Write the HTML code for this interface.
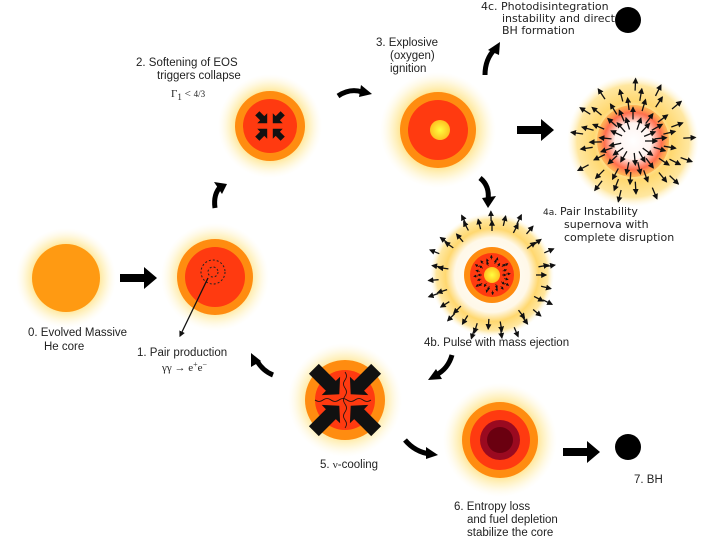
<!DOCTYPE html>
<html><head><meta charset="utf-8"><style>
html,body{margin:0;padding:0;background:#fff}
svg{display:block}
text{font-family:"Liberation Sans",sans-serif;font-size:11.5px;fill:#222}
.s{font-family:"DejaVu Sans",sans-serif;font-size:11px}
.m{font-family:"Liberation Serif",serif;font-size:11px}
</style></head><body>
<svg id="g" width="720" height="544" viewBox="0 0 720 544" xmlns="http://www.w3.org/2000/svg">
<defs>
<radialGradient id="glow"><stop offset="0.55" stop-color="#ffd860" stop-opacity="1"/><stop offset="0.8" stop-color="#ffeeb0" stop-opacity="0.6"/><stop offset="1" stop-color="#fff8e0" stop-opacity="0"/></radialGradient>
<radialGradient id="ex"><stop offset="0" stop-color="#fff"/><stop offset="0.35" stop-color="#fff0e0"/><stop offset="0.6" stop-color="#ffd870"/><stop offset="0.85" stop-color="#ffe7a0"/><stop offset="1" stop-color="#fff8e0" stop-opacity="0"/></radialGradient>
<radialGradient id="ex2"><stop offset="0" stop-color="#fff"/><stop offset="0.6" stop-color="#fff8e8"/><stop offset="0.75" stop-color="#ffd870"/><stop offset="0.9" stop-color="#ffe7a0"/><stop offset="1" stop-color="#fff8e0" stop-opacity="0"/></radialGradient>
<radialGradient id="yc"><stop offset="0" stop-color="#ffff40"/><stop offset="1" stop-color="#ffc020"/></radialGradient>
<radialGradient id="core4a"><stop offset="0" stop-color="#fff"/><stop offset="0.5" stop-color="#fff4f0"/><stop offset="0.8" stop-color="#ff5030" stop-opacity="0.8"/><stop offset="1" stop-color="#ff9020" stop-opacity="0.5"/></radialGradient>
<marker id="ah" viewBox="0 0 10 10" refX="8" refY="5" markerWidth="6" markerHeight="6" markerUnits="userSpaceOnUse" orient="auto"><path d="M0,0L10,5L0,10z" fill="#111"/></marker>
<marker id="ahs" viewBox="0 0 10 10" refX="8" refY="5" markerWidth="3" markerHeight="3" markerUnits="userSpaceOnUse" orient="auto"><path d="M0,0L10,5L0,10z" fill="#111"/></marker>
</defs>

<circle cx="66" cy="278" r="50" fill="url(#glow)"/>
<circle cx="66" cy="278" r="34" fill="#ff9a12"/>
<circle cx="215" cy="277" r="54" fill="url(#glow)"/>
<circle cx="215" cy="277" r="38" fill="#ff8c10"/>
<circle cx="215" cy="277" r="30" fill="#ff3a10"/>
<circle cx="213" cy="272" r="12" fill="none" stroke="#222" stroke-dasharray="2,2"/>
<circle cx="213" cy="272" r="5" fill="none" stroke="#222" stroke-dasharray="2,2"/>
<line x1="208" y1="278" x2="180" y2="336" stroke="#111" stroke-width="1.3" marker-end="url(#ah)"/>
<circle cx="270" cy="126" r="52" fill="url(#glow)"/>
<circle cx="270" cy="126" r="35" fill="#ff8c10"/>
<circle cx="270" cy="126" r="27" fill="#ff3a10"/>
<g id="in2" fill="#111"></g>
<circle cx="438" cy="130" r="58" fill="url(#glow)"/>
<circle cx="438" cy="130" r="38" fill="#ff8c10"/>
<circle cx="438" cy="130" r="30" fill="#ff3a10"/>
<circle cx="440" cy="130" r="10" fill="url(#yc)"/>
<circle cx="633" cy="141" r="66" fill="url(#ex)"/>
<circle cx="633" cy="141" r="36" fill="url(#core4a)"/>
<g id="a4a" stroke="#111" stroke-width="1.3"></g>
<circle cx="492" cy="275" r="62" fill="url(#ex2)"/>
<circle cx="492" cy="275" r="28" fill="#ff8c10"/>
<circle cx="492" cy="275" r="22" fill="#ff3a10"/>
<circle cx="492" cy="275" r="8" fill="url(#yc)"/>
<g id="a4b" stroke="#111" stroke-width="1.3"></g>
<g id="a4bi" stroke="#111" stroke-width="0.7"></g>
<circle cx="628" cy="20" r="13" fill="#000"/>
<circle cx="345" cy="400" r="57" fill="url(#glow)"/>
<circle cx="345" cy="400" r="40" fill="#ff8c10"/>
<circle cx="345" cy="400" r="30" fill="#ff3a10"/>
<g stroke="#111" fill="none" stroke-width="0.8"><path d="M345,372 q3,4 0,8 q-3,4 0,8 q3,4 0,8 q-3,4 0,8 q3,4 0,8 q-3,4 0,8 q3,4 0,8"/><path d="M315,400 q4,3 8,0 q4,-3 8,0 q4,3 8,0 q4,-3 8,0 q4,3 8,0 q4,-3 8,0 q4,3 8,0"/></g>
<g id="in5" fill="#111"></g>
<circle cx="500" cy="440" r="57" fill="url(#glow)"/>
<circle cx="500" cy="440" r="38" fill="#ff8c10"/>
<circle cx="500" cy="440" r="30" fill="#ff3a10"/>
<circle cx="500" cy="440" r="20" fill="#9a0a20"/>
<circle cx="500" cy="440" r="13" fill="#6a0010"/>
<circle cx="628" cy="447" r="13" fill="#000"/>

<g fill="#000">
<path d="M120,274h24v-7l13,11l-13,11v-7h-24z"/>
<path d="M517,126h24v-7l13,11l-13,11v-7h-24z"/>
<path d="M563,448h24v-7l13,11l-13,11v-7h-24z"/>
</g>
<g fill="none" stroke="#000" stroke-width="5">
<path d="M215,208 q-2,-14 6,-22"/>
<path d="M338,96 q12,-8 24,-4"/>
<path d="M485,75 q0,-16 10,-26"/>
<path d="M480,178 q10,8 8,22"/>
<path d="M452,355 q-4,14 -16,20"/>
<path d="M273,375 q-10,-4 -16,-14"/>
<path d="M405,440 q10,12 25,14"/>
</g>
<g fill="#000">
<path d="M214,182l13,2l-5,10z"/>
<path d="M372,94l-11,-9l-2,12z"/>
<path d="M500,42l-12,8l11,5z"/>
<path d="M488,208l8,-12l-14,2z"/>
<path d="M428,380l14,-1l-6,-10z"/>
<path d="M251,353l0,14l10,-6z"/>
<path d="M438,455l-12,-8l0,12z"/>
</g>

<text x="136" y="66">2. Softening of EOS</text>
<text x="157" y="79">triggers collapse</text>
<text x="171" y="97" class="m" font-size="13">Γ<tspan font-size="9" dy="3">1</tspan><tspan dy="-3"> &lt; </tspan><tspan font-size="9">4/3</tspan></text>
<text x="376" y="46">3. Explosive</text>
<text x="390" y="59">(oxygen)</text>
<text x="390" y="72">ignition</text>
<text x="481" y="10" class="s">4c. Photodisintegration</text>
<text x="502" y="22" class="s">instability and direct</text>
<text x="502" y="34" class="s">BH formation</text>
<text x="543" y="215" class="s"><tspan font-size="9">4a. </tspan>Pair Instability</text>
<text x="564" y="228" class="s">supernova with</text>
<text x="564" y="241" class="s">complete disruption</text>
<text x="424" y="346">4b. Pulse with mass ejection</text>
<text x="28" y="336">0. Evolved Massive</text>
<text x="44" y="350">He core</text>
<text x="137" y="356">1. Pair production</text>
<text x="162" y="371" class="m" font-size="12">γγ → e<tspan font-size="8" dy="-4">+</tspan><tspan dy="4">e</tspan><tspan font-size="8" dy="-4">−</tspan></text>
<text x="320" y="468">5. <tspan class="m">ν</tspan>-cooling</text>
<text x="454" y="510">6. Entropy loss</text>
<text x="467" y="523">and fuel depletion</text>
<text x="467" y="536">stabilize the core</text>
<text x="634" y="483">7. BH</text>
</svg>
<script>
function ar(id,cx,cy,r1,r2,n,len,mk){var g=document.getElementById(id),s="";
for(var i=0;i<n;i++){var a=i*2*Math.PI/n+(i%3)*0.07,rr=r1+((i*7)%5)*((r2-r1)/5);
var x1=cx+Math.cos(a)*rr,y1=cy+Math.sin(a)*rr,x2=cx+Math.cos(a)*(rr+len),y2=cy+Math.sin(a)*(rr+len);
s+='<line x1="'+x1.toFixed(1)+'" y1="'+y1.toFixed(1)+'" x2="'+x2.toFixed(1)+'" y2="'+y2.toFixed(1)+'" marker-end="url(#'+mk+')"/>';}
g.innerHTML=s;}
function inw(id,cx,cy,ro,ri,w,hw,hl){var g=document.getElementById(id),s="";
for(var k=0;k<4;k++){var a=Math.PI/4+k*Math.PI/2,ux=-Math.cos(a),uy=-Math.sin(a),px=-uy,py=ux;
var sx=cx-ux*ro,sy=cy-uy*ro,tx=cx-ux*ri,ty=cy-uy*ri,bx=tx-ux*hl,by=ty-uy*hl;
var P=[[sx+px*w,sy+py*w],[bx+px*w,by+py*w],[bx+px*hw,by+py*hw],[tx,ty],[bx-px*hw,by-py*hw],[bx-px*w,by-py*w],[sx-px*w,sy-py*w]];
s+='<polygon points="'+P.map(function(p){return p[0].toFixed(1)+','+p[1].toFixed(1)}).join(' ')+'"/>';}
g.innerHTML=s;}
try{
ar("a4a",633,141,12,60,64,12,"ah");
ar("a4b",492,275,44,60,40,10,"ah");
ar("a4bi",492,275,10,17,30,4,"ahs");
inw("in2",270,126,18,4,3,7,7);
inw("in5",345,400,44,8,7,13,12);
}catch(e){}
</script>
</body></html>
